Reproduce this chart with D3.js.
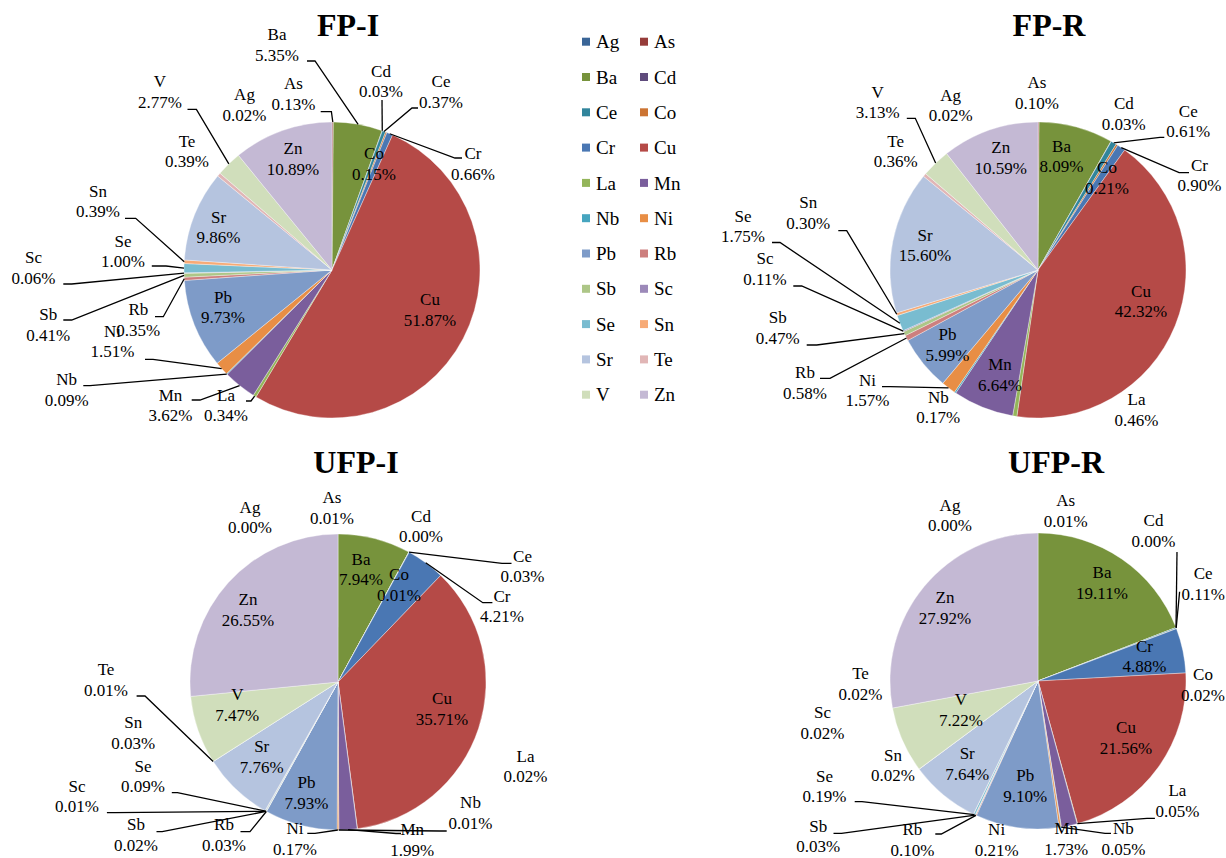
<!DOCTYPE html>
<html>
<head>
<meta charset="utf-8">
<script src="https://cdn.jsdelivr.net/npm/d3@7"></script>
<style>
  html, body { margin: 0; padding: 0; background: #ffffff; }
  svg { display: block; }
</style>
</head>
<body>
<svg id="chart" width="1226" height="858"></svg>
<script>
// Elements, in slice and legend order
const elements = ["Ag","As","Ba","Cd","Ce","Co","Cr","Cu","La","Mn","Nb",
                  "Ni","Pb","Rb","Sb","Sc","Se","Sn","Sr","Te","V","Zn"];

// Mass share of each element (%)
const fpI  = [0.02, 0.13, 5.35, 0.03, 0.37, 0.15, 0.66, 51.87, 0.34, 3.62, 0.09,
              1.51, 9.73, 0.35, 0.41, 0.06, 1.00, 0.39, 9.86, 0.39, 2.77, 10.89];
const fpR  = [0.02, 0.10, 8.09, 0.03, 0.61, 0.21, 0.90, 42.32, 0.46, 6.64, 0.17,
              1.57, 5.99, 0.58, 0.47, 0.11, 1.75, 0.30, 15.60, 0.36, 3.13, 10.59];
const ufpI = [0.00, 0.01, 7.94, 0.00, 0.03, 0.01, 4.21, 35.71, 0.02, 1.99, 0.01,
              0.17, 7.93, 0.03, 0.02, 0.01, 0.09, 0.03, 7.76, 0.01, 7.47, 26.55];
const ufpR = [0.00, 0.01, 19.11, 0.00, 0.11, 0.02, 4.88, 21.56, 0.05, 1.73, 0.05,
              0.21, 9.10, 0.10, 0.03, 0.02, 0.19, 0.02, 7.64, 0.02, 7.22, 27.92];

const titles = ["FP-I", "FP-R", "UFP-I", "UFP-R"];

const palette = ["#3A6597","#963C3A","#77933C","#5F4B7C","#31859C","#CC7433",
                 "#4A77B3","#B54A47","#94B55A","#7A5E9C","#46A5BF","#E88E45",
                 "#7E9BC8","#CD7F7E","#ADC687","#9C89B9","#79BCD0","#F7AA76",
                 "#B5C4DF","#E1B6B6","#D0DEBB","#C4B9D4"];

const FONT = "'Liberation Serif', 'Times New Roman', Times, serif";

// Label placement, relative to each pie's centre:
// [textX, firstBaselineY] or [textX, firstBaselineY, leaderX, leaderY, elbowX, elbowY]
const labelsFPI = {
  Ag: [-87.5, -170], Te: [-145, -123.3],
  Co: [42, -111], Cu: [98, 35], Sr: [-113.5, -47.5], Zn: [-39, -116], Pb: [-109, 32.5],
  Ba: [-55, -230, -25, -209, -17, -209],
  As: [-38.5, -180.7, -11.3, -158.3, -0.6, -158.3],
  Cd: [49, -193.3, 50, -170, 50, -170],
  Ce: [109, -183, 86, -162, 80, -162],
  Cr: [141, -111, 130, -112, 123, -112],
  La: [-106, 130.5, -86, 131, -81, 131],
  Mn: [-161.5, 130.5, -140.3, 130, -132, 130],
  Nb: [-265.3, 115, -248.7, 115.7, -242, 115.7],
  Ni: [-219.5, 66.7, -187, 89.3, -179, 89.3],
  Rb: [-193.7, 45, -177, 46.7, -168.7, 46.7],
  Sb: [-283.7, 50, -268.7, 50, -260.3, 50],
  Sc: [-298.5, -6.7, -268.7, 14, -260.3, 14],
  Se: [-209, -23.3, -180.2, -4, -166, -4],
  Sn: [-234, -73.3, -207, -51.7, -196.3, -51.7],
  V:  [-172, -182.7, -144.5, -160.7, -135.6, -160.7]
};
const labelsFPR = {
  Ba: [23.5, -118.3], Co: [69, -96.7], Zn: [-37.3, -116.7], Sr: [-113, -29.3],
  Cu: [103, 26.7], Pb: [-90.5, 70], Mn: [-38, 100],
  As: [-1, -181.7], Ag: [-87.4, -169.3], Te: [-142.3, -123.3], Cd: [85.8, -160.7],
  La: [98.5, 135], Nb: [-99.7, 132.7],
  V:  [-160.4, -172.3, -131.2, -151.7, -122.7, -151.7],
  Ce: [150.3, -153.3, 126.3, -132.7, 122, -132.7],
  Cr: [161.4, -99.3, 151, -97.3, 141.1, -97.3],
  Ni: [-170.5, 115.5, -156, 116.7, -148, 116.7],
  Rb: [-233, 108.3, -218, 108.3, -208, 108.3],
  Sb: [-260.3, 53.3, -231.3, 75, -221.3, 75],
  Sc: [-273, -6, -244.7, 16, -236.3, 16],
  Se: [-295, -48.3, -266, -27.5, -258, -27.5],
  Sn: [-229.7, -61.7, -199.7, -39.3, -191.3, -39.3]
};
const labelsUFPI = {
  Ba: [23, -117.5], Co: [61, -102], Zn: [-90, -77], Cu: [104, 22], V: [-100.7, 18],
  Sr: [-76.3, 70.3], Pb: [-31.5, 106.3],
  As: [-6, -178.7], Ag: [-88, -169.3], Cd: [83, -160.3], La: [187.5, 79.7], Sn: [-204.8, 46.3],
  Ce: [184.5, -120.3, 173.5, -118.7, 164, -118.7],
  Cr: [164, -80.3, 154.4, -79.3, 144.8, -79.3],
  Nb: [132.5, 126.3, 108.7, 149, 102, 149],
  Mn: [74.2, 153, 63, 151.5, 58, 151.5],
  Ni: [-43, 152, -30.7, 151.3, -23, 151.3],
  Rb: [-114, 148, -97.5, 149.7, -88, 149.7],
  Sb: [-202, 148, -181.5, 149.7, -175.8, 149.7],
  Sc: [-261, 109.7, -231.1, 130.7, -223, 130.7],
  Se: [-195, 89.7, -166.2, 110.7, -160.5, 110.7],
  Te: [-232, -7, -201.4, 14, -193, 14]
};
const labelsUFPR = {
  Ba: [64, -102.7], Cr: [106.5, -29.3], Cu: [88, 52.3], Pb: [-12.7, 100], Sr: [-70.8, 78.3],
  V: [-77, 24], Zn: [-93, -77.7],
  As: [27.7, -175], Ag: [-88, -170.3], Co: [165, -1], Te: [-177.5, -1.7], Sc: [-215.5, 37.3],
  Sn: [-145, 79.7], Ni: [-41.4, 154], Mn: [28.3, 153],
  Cd: [115.5, -155, 139, -129, 139, -129],
  Ce: [165.2, -101.7, 141.6, -89.3, 141.6, -89.3],
  La: [139.4, 115, 116.9, 137.3, 109, 137.3],
  Nb: [85.4, 153, 73, 152.3, 67, 152.3],
  Se: [-213.5, 100.7, -183.3, 120.7, -176, 120.7],
  Sb: [-219.8, 150.7, -204.5, 152.3, -196.5, 152.3],
  Rb: [-125.6, 154, -102.7, 153, -96.7, 153]
};

const panels = [
  { title: titles[0], values: fpI,  cx: 332,  cy: 270, r: 148, tdx: 16, tdy: -234, labels: labelsFPI },
  { title: titles[1], values: fpR,  cx: 1038, cy: 270, r: 148, tdx: 11, tdy: -234, labels: labelsFPR },
  { title: titles[2], values: ufpI, cx: 338,  cy: 682, r: 148, tdx: 18, tdy: -209, labels: labelsUFPI },
  { title: titles[3], values: ufpR, cx: 1038, cy: 681, r: 148, tdx: 18, tdy: -208, labels: labelsUFPR }
];

const svg = d3.select("#chart");
const color = d3.scaleOrdinal().domain(elements).range(palette);
const pie = d3.pie().sort(null).value(d => d.value);
const fmt = v => v.toFixed(2) + "%";
const lineGap = 20.5;

panels.forEach(p => {
  const data = elements.map((e, i) => ({ name: e, value: p.values[i] }));
  const arcs = pie(data);
  const arc = d3.arc().innerRadius(0).outerRadius(p.r);
  const rim = d3.arc().innerRadius(p.r).outerRadius(p.r);

  const g = svg.append("g").attr("transform", `translate(${p.cx},${p.cy})`);

  g.selectAll("path.slice")
    .data(arcs)
    .join("path")
    .attr("class", "slice")
    .attr("d", arc)
    .attr("fill", d => color(d.data.name))
    .attr("stroke", "#ffffff")
    .attr("stroke-width", 0.5)
    .attr("stroke-opacity", 0.7);

  // leader lines
  arcs.forEach(d => {
    const lab = p.labels[d.data.name];
    if (!lab || lab.length < 6) return;
    const [px, py] = rim.centroid(d);
    g.append("path")
      .attr("d", `M${lab[2]},${lab[3]}L${lab[4]},${lab[5]}L${px},${py}`)
      .attr("fill", "none")
      .attr("stroke", "#000")
      .attr("stroke-width", 1.3);
  });

  // labels
  arcs.forEach(d => {
    const lab = p.labels[d.data.name];
    if (!lab) return;
    const t = g.append("text")
      .attr("text-anchor", "middle")
      .attr("font-family", FONT)
      .attr("font-size", 17)
      .attr("fill", "#000");
    t.append("tspan").attr("x", lab[0]).attr("y", lab[1]).text(d.data.name);
    t.append("tspan").attr("x", lab[0]).attr("y", lab[1] + lineGap).text(fmt(d.data.value));
  });

  g.append("text")
    .attr("x", p.tdx)
    .attr("y", p.tdy)
    .attr("text-anchor", "middle")
    .attr("font-family", FONT)
    .attr("font-size", 32)
    .attr("font-weight", "bold")
    .attr("fill", "#000")
    .text(p.title);
});

// legend: two columns
const legend = svg.append("g").attr("class", "legend");
const colX = [582, 640];
const rowY0 = 41.7, rowStep = 35.3;
elements.forEach((e, i) => {
  const x = colX[i % 2];
  const y = rowY0 + Math.floor(i / 2) * rowStep;
  legend.append("rect")
    .attr("x", x).attr("y", y - 4).attr("width", 8).attr("height", 8)
    .attr("fill", color(e));
  legend.append("text")
    .attr("x", x + 14).attr("y", y + 6.6)
    .attr("font-family", FONT)
    .attr("font-size", 19)
    .attr("fill", "#000")
    .text(e);
});
</script>
</body>
</html>
